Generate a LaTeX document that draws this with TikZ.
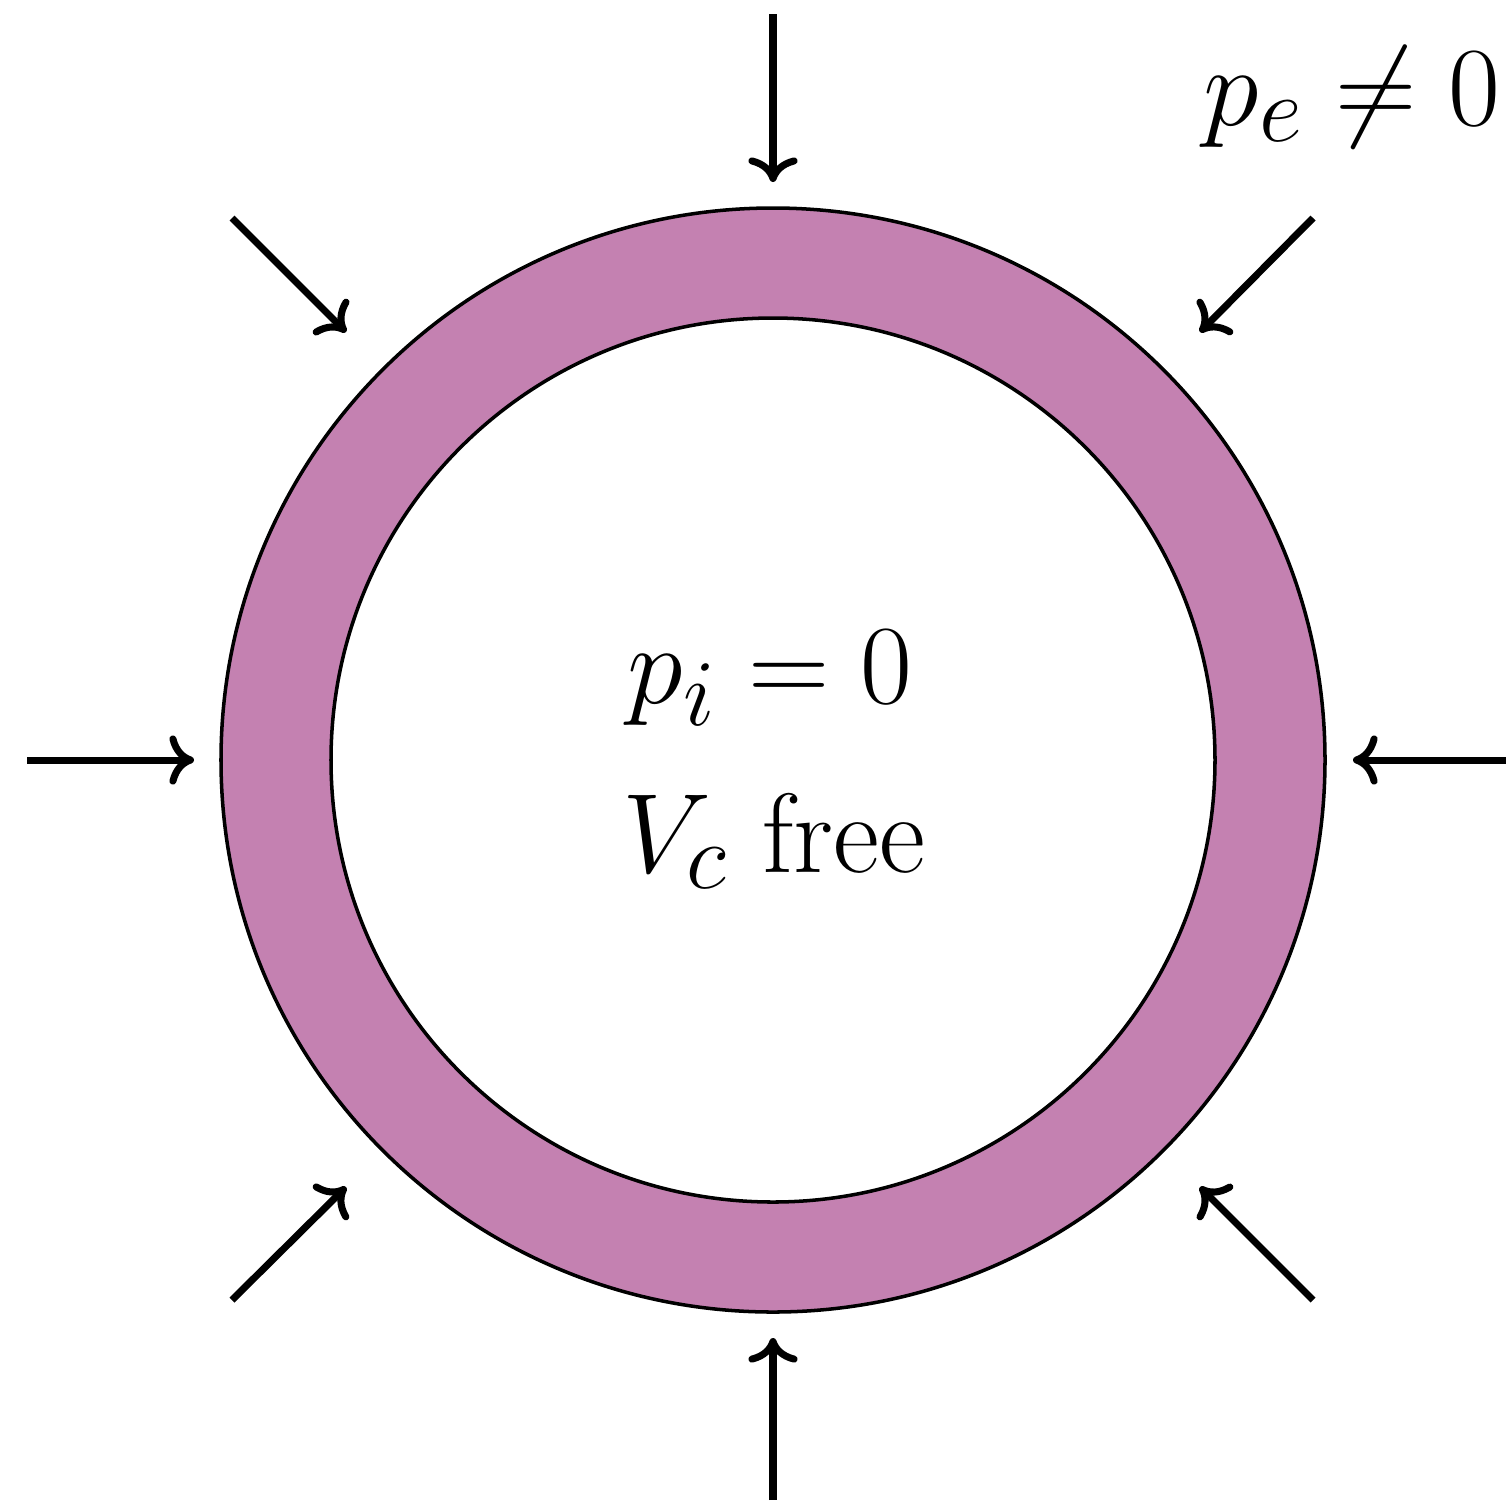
\documentclass[tikz,border=0pt]{standalone}
\usepackage{amsmath}
\usetikzlibrary{arrows.meta}
\definecolor{ringfill}{RGB}{196,129,177}
\begin{document}
\begin{tikzpicture}[x=0.01cm,y=-0.01cm,
  push/.style={-{Computer Modern Rightarrow[length=7pt,width=14pt]},line width=2pt},
  rim/.style={line width=1pt},
  lbl/.style={font=\Huge, inner sep=0pt, anchor=base, scale=1.29, transform shape}]
\useasboundingbox (0,0) rectangle (1506,1502);
\coordinate (c) at (773,760);
\fill[ringfill,even odd rule] (c) circle[radius=552] (c) circle[radius=442];
\draw[rim] (c) circle[radius=552];
\draw[rim] (c) circle[radius=442];
% arrow coordinates
\coordinate (ns) at (773,14);   \coordinate (ne) at (773,182);
\coordinate (ss) at (773,1500); \coordinate (se) at (773,1338);
\coordinate (ws) at (27,760);   \coordinate (we) at (194,760);
\coordinate (es) at (1506,760); \coordinate (ee) at (1353,760);
\coordinate (nws) at (232,218);  \coordinate (nwe) at (346,332);
\coordinate (nes) at (1313,218); \coordinate (nee) at (1200,332);
\coordinate (sws) at (232,1300); \coordinate (swe) at (346,1187);
\coordinate (ses) at (1313,1300);\coordinate (see) at (1200,1187);
\draw[push] (ns) -- (ne);
\draw[push] (ss) -- (se);
\draw[push] (ws) -- (we);
\draw[push] (es) -- (ee);
\draw[push] (nws) -- (nwe);
\draw[push] (nes) -- (nee);
\draw[push] (sws) -- (swe);
\draw[push] (ses) -- (see);
\node[lbl] (pi) at (770,703) {$p_i = 0$};
\node[lbl] (vc) at (774,872) {$V_c$ free};
\node[lbl] (pe) at (1352,125) {$p_e \neq 0$};
\end{tikzpicture}
\end{document}
